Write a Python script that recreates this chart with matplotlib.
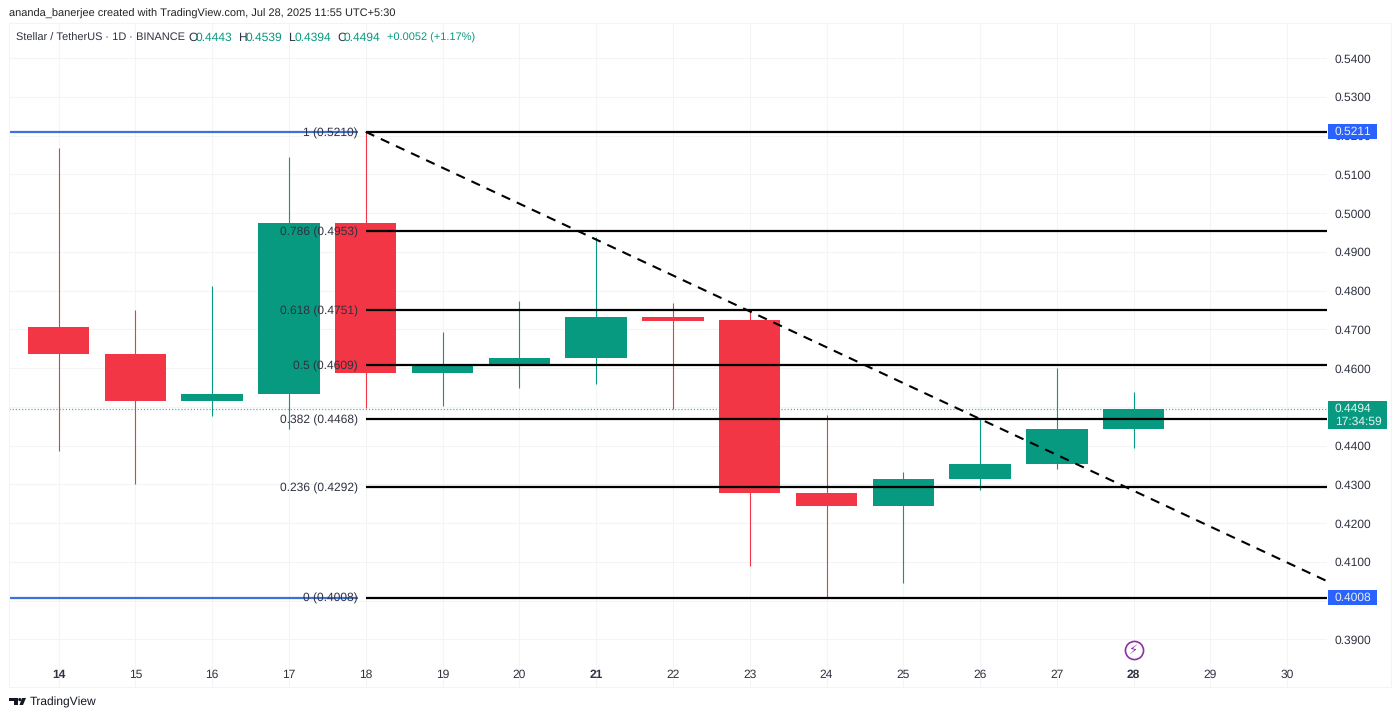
import matplotlib
matplotlib.use("Agg")
import matplotlib.pyplot as plt
from matplotlib.patches import Circle, Polygon, Rectangle
from matplotlib.transforms import IdentityTransform

plt.rcParams["font.family"] = ["Liberation Sans", "DejaVu Sans"]
plt.rcParams["text.hinting"] = "none"
plt.rcParams["text.hinting_factor"] = 1

# candle data
days = [14, 15, 16, 17, 18, 19, 20, 21, 22, 23, 24, 25, 26, 27, 28]
opens = [0.4706, 0.4636, 0.4515, 0.4533, 0.4974, 0.4587, 0.4610, 0.4626, 0.4731, 0.4724, 0.4277, 0.4243, 0.4313, 0.4352, 0.4443]
highs = [0.5168, 0.4750, 0.4811, 0.5145, 0.5212, 0.4693, 0.4773, 0.4938, 0.4768, 0.4750, 0.4478, 0.4331, 0.4468, 0.4600, 0.4539]
lows = [0.4385, 0.4300, 0.4476, 0.4442, 0.4496, 0.4502, 0.4548, 0.4558, 0.4494, 0.4089, 0.4008, 0.4045, 0.4285, 0.4339, 0.4394]
closes = [0.4636, 0.4515, 0.4533, 0.4974, 0.4587, 0.4610, 0.4626, 0.4731, 0.4721, 0.4277, 0.4243, 0.4313, 0.4352, 0.4443, 0.4494]

# fibonacci levels
fib_ratios = ["1", "0.786", "0.618", "0.5", "0.382", "0.236", "0"]
fib_prices = [0.5210, 0.4953, 0.4751, 0.4609, 0.4468, 0.4292, 0.4008]

price_ticks = [0.39, 0.40, 0.41, 0.42, 0.43, 0.44, 0.45, 0.46, 0.47, 0.48, 0.49, 0.50, 0.51, 0.52, 0.53, 0.54]
hidden_prices = [0.40, 0.45]   # covered by the tags in the original
day_ticks = [14, 15, 16, 17, 18, 19, 20, 21, 22, 23, 24, 25, 26, 27, 28, 29, 30]
bold_days = [14, 21, 28]

trend_x = [18, 30.52]
trend_y = [0.5210, 0.4050]

GREEN = "#089981"
RED = "#f23645"
BLUE = "#2962ff"
LINE_BLUE = "#3f6fd8"
GRID = "#f3f4f6"
TEXT = "#2f3240"


def draw_candles(ax):
    for i in range(len(days)):
        color = GREEN if closes[i] >= opens[i] else RED
        ax.plot([days[i], days[i]], [lows[i], highs[i]], color=color, lw=0.8, zorder=2, solid_capstyle="butt")
        ax.bar(days[i], abs(closes[i] - opens[i]), 0.8, bottom=min(opens[i], closes[i]), color=color, zorder=3)


def draw_fib(ax):
    for i in range(len(fib_prices)):
        ax.plot([18, ax.get_xlim()[1]], [fib_prices[i], fib_prices[i]], color="black", lw=1.6, zorder=4, solid_capstyle="butt")
        ax.annotate(fib_ratios[i] + " (%.4f)" % fib_prices[i], (18, fib_prices[i]), xytext=(-5.8, 0),
                    textcoords="offset points", ha="right", va="center_baseline", fontsize=8.4, color=TEXT, zorder=6)
    # the two end levels carry on to the left in blue, stopping at the label
    for price in [fib_prices[0], fib_prices[-1]]:
        ax.plot([ax.get_xlim()[0], 17.9], [price, price], color=LINE_BLUE, lw=1.6, zorder=4, solid_capstyle="butt")
    ax.plot(trend_x, trend_y, color="black", lw=1.5, dashes=(4.5, 3.5), zorder=5)


def price_tag(ax, price, text, color, height):
    # tag sits just right of the plot, over the price scale
    trans = ax.get_yaxis_transform()
    width = (49 if color == BLUE else 59) / 1318
    ax.add_patch(Rectangle((1.0007, price - height / 2), width, height, transform=trans,
                           color=color, clip_on=False, zorder=10, lw=0))
    ax.text(1.0058, price, text, transform=trans, color="#e8f2ef", fontsize=8.5, va="center", ha="left", zorder=11, linespacing=1.15)


def draw_header(fig):
    fig.text(9 / 1400, 1 - 14 / 718, "ananda_banerjee created with TradingView.com, Jul 28, 2025 11:55 UTC+5:30",
             fontsize=7.75, color="#222222", va="center")
    y = 1 - 38 / 718
    parts = [(16, "Stellar / TetherUS · 1D · BINANCE", TEXT, 7.9), (188, "O", TEXT, 8.4), (196, "0.4443", GREEN, 8.8),
             (238, "H", TEXT, 8.4), (246, "0.4539", GREEN, 8.8), (288, "L", TEXT, 8.4), (295, "0.4394", GREEN, 8.8),
             (337, "C", TEXT, 8.4), (344, "0.4494", GREEN, 8.8), (387, "+0.0052 (+1.17%)", GREEN, 8.0)]
    for x, text, color, size in parts:
        fig.text(x / 1400, y, text, fontsize=size, color=color, va="center")


def draw_logo(fig):
    # small TradingView mark, in figure pixels
    shapes = [[(9, 698), (18, 698), (18, 705), (14, 705), (14, 701), (9, 701)],
              [(19.5, 705), (22, 698), (26, 698), (23, 705)]]
    for shape in shapes:
        points = [(x / 1400, 1 - y / 718) for x, y in shape]
        fig.add_artist(Polygon(points, closed=True, color="#131722", transform=fig.transFigure, lw=0))
    fig.add_artist(Circle((19.8, 718 - 699.6), 1.6, color="#131722", transform=IdentityTransform(), lw=0))
    fig.text(30 / 1400, 1 - 702.5 / 718, "TradingView", fontsize=8.8, color="#131722", va="center")


def main():
    fig = plt.figure(figsize=(14, 7.18), dpi=100)
    ax = fig.add_axes([9 / 1400, 1 - 687 / 718, 1318 / 1400, 664 / 718])
    ax.set_xlim(13.355, 30.517)
    ax.set_ylim(0.3777, 0.5491)

    ax.yaxis.tick_right()
    ax.set_yticks(price_ticks, ["" if p in hidden_prices else "%.4f" % p for p in price_ticks])
    ax.set_xticks(day_ticks, [str(d) for d in day_ticks])
    ax.tick_params(axis="both", length=0, labelsize=8.5, labelcolor=TEXT)
    ax.tick_params(axis="y", pad=5.5)
    ax.tick_params(axis="x", pad=-12.5)
    for label, day in zip(ax.get_xticklabels(), day_ticks):
        if day in bold_days:
            label.set_fontweight("bold")
    ax.grid(True, color=GRID, lw=0.8, zorder=0)
    ax.set_axisbelow(True)
    for spine in ax.spines.values():
        spine.set_visible(False)

    # outer frame runs around the price scale too
    fig.add_artist(Rectangle((9 / 1400, 1 - 687 / 718), 1382 / 1400, 664 / 718, fill=False,
                             edgecolor=GRID, lw=0.8, transform=fig.transFigure))

    draw_candles(ax)
    ax.plot(ax.get_xlim(), [closes[-1], closes[-1]], color=GREEN, lw=0.9, dashes=(1, 1.5), alpha=0.7, zorder=1)
    draw_fib(ax)

    price_tag(ax, 0.5211, "0.5211", BLUE, 0.0037)
    price_tag(ax, 0.4008, "0.4008", BLUE, 0.0037)
    price_tag(ax, 0.4478, "0.4494\n17:34:59", GREEN, 0.0072)

    # lightning event marker on the 28th
    ax.scatter([28], [0.38716], s=170, facecolor="white", edgecolor="#8e2fa8", lw=1.2, zorder=6)
    ax.text(28, 0.38716, "\u26a1", fontsize=9.5, color="#8e2fa8", ha="center", va="center", zorder=7)

    draw_header(fig)
    draw_logo(fig)
    fig.savefig("out.png", dpi=100)


main()
